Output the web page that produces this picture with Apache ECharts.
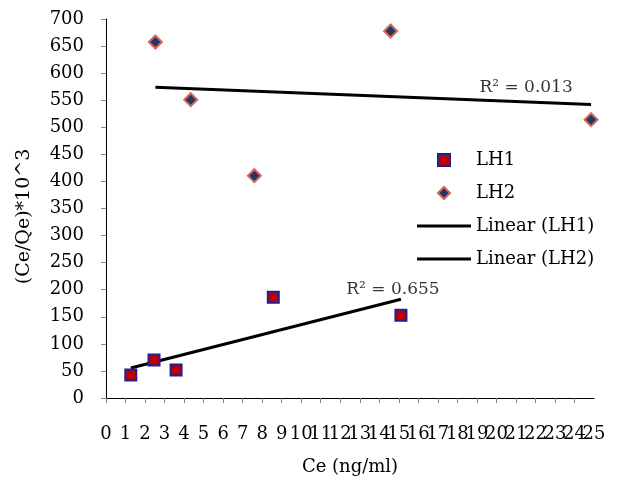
<!DOCTYPE html>
<html><head><meta charset="utf-8">
<script src="https://cdn.jsdelivr.net/npm/echarts@6/dist/echarts.min.js"></script>
<style>html,body{margin:0;padding:0;background:#fff}#c{width:627px;height:479px}</style>
</head><body><div id="c"></div>
<script>
// ---- data ----
const lh1X = [1.27, 2.46, 3.59, 8.57, 15.11];
const lh1Y = [42.5, 70.2, 51.7, 186, 152.7];
const lh2X = [2.53, 4.34, 7.60, 14.58, 24.85];
const lh2Y = [657.5, 551, 410.6, 677.9, 514];
const seriesNames = ['LH1', 'LH2', 'Linear (LH1)', 'Linear (LH2)'];
const r2Labels = ['R\u00B2 = 0.655', 'R\u00B2 = 0.013'];
const xAxisName = 'Ce (ng/ml)';
const yAxisName = '(Ce/Qe)*10^3';
const xMin = 0, xMax = 25, xStep = 1;
const yMin = 0, yMax = 700, yStep = 50;

const FONT = 'DejaVu Serif';
const TXT = '#000';

function zip(xs, ys) { return xs.map((x, i) => [x, ys[i]]); }
function trend(xs, ys) {
  const n = xs.length;
  const mx = xs.reduce((a, b) => a + b, 0) / n;
  const my = ys.reduce((a, b) => a + b, 0) / n;
  let sxy = 0, sxx = 0;
  for (let i = 0; i < n; i++) { sxy += (xs[i] - mx) * (ys[i] - my); sxx += (xs[i] - mx) ** 2; }
  const b = sxy / sxx, a = my - b * mx;
  const x0 = Math.min(...xs), x1 = Math.max(...xs);
  return [[x0, a + b * x0], [x1, a + b * x1]];
}
const t1 = trend(lh1X, lh1Y);
const t2 = trend(lh2X, lh2Y);

const xLabelStyle = { margin: 27, fontFamily: FONT, fontSize: 18, color: TXT, hideOverlap: false };

const chart = echarts.init(document.getElementById('c'), null, { renderer: 'canvas' });
chart.setOption({
  animation: false,
  backgroundColor: '#fff',
  textStyle: { fontFamily: FONT, color: TXT },
  grid: { left: 106, right: 33, top: 19, bottom: 81, containLabel: false, outerBoundsMode: 'none' },
  xAxis: [{
    type: 'value', min: xMin, max: xMax, interval: xStep,
    name: xAxisName, nameLocation: 'middle', nameGap: 60,
    nameTextStyle: { fontFamily: FONT, fontSize: 18, color: TXT },
    axisLine: { show: true, onZero: false, lineStyle: { color: '#000', width: 1 } },
    axisTick: { show: true, length: 5, lineStyle: { color: '#868686' } },
    axisLabel: Object.assign({}, xLabelStyle, { showMinLabel: true, showMaxLabel: false }),
    splitLine: { show: false }
  }, {
    // overlay axis that only carries the last tick label (so neighbouring labels are not dropped)
    type: 'value', min: xMin, max: xMax, interval: xStep, position: 'bottom',
    axisLine: { show: false }, axisTick: { show: false }, splitLine: { show: false },
    axisLabel: Object.assign({}, xLabelStyle, { showMinLabel: false, showMaxLabel: true,
      formatter: v => (v === xMax ? String(v) : '') })
  }],
  yAxis: {
    type: 'value', min: yMin, max: yMax, interval: yStep,
    name: yAxisName, nameLocation: 'middle', nameGap: 72, nameRotate: 90,
    nameTextStyle: { fontFamily: FONT, fontSize: 19, color: TXT, padding: [0, 16, 0, 0] },
    axisLine: { show: true, onZero: false, lineStyle: { color: '#000', width: 1 } },
    axisTick: { show: true, length: 5, lineStyle: { color: '#868686' } },
    axisLabel: { margin: 22, fontFamily: FONT, fontSize: 18, color: TXT,
                 showMinLabel: true, showMaxLabel: true },
    splitLine: { show: false }
  },
  legend: {
    orient: 'vertical', left: 417, top: 151, padding: 0,
    itemWidth: 54, itemHeight: 12, itemGap: 15,
    textStyle: { fontFamily: FONT, fontSize: 18, color: TXT },
    data: [
      { name: seriesNames[0], icon: 'path://M0,0L10,0L10,10L0,10Z',
        itemStyle: { color: '#c00000', borderColor: '#1f1f96', borderWidth: 2 } },
      { name: seriesNames[1], icon: 'path://M5,0L10,5L5,10L0,5Z',
        itemStyle: { color: '#1f3864', borderColor: '#d9645a', borderWidth: 2 } },
      { name: seriesNames[2], icon: 'path://M0,0L54,0L54,3L0,3Z',
        itemStyle: { color: '#000', borderWidth: 0 } },
      { name: seriesNames[3], icon: 'path://M0,0L54,0L54,3L0,3Z',
        itemStyle: { color: '#000', borderWidth: 0 } }
    ]
  },
  series: [
    {
      name: seriesNames[0], type: 'scatter', symbol: 'rect', symbolSize: 11, clip: false,
      itemStyle: { color: '#c00000', borderColor: '#1f1f96', borderWidth: 2, opacity: 1 },
      data: zip(lh1X, lh1Y), z: 3
    },
    {
      name: seriesNames[1], type: 'scatter', symbol: 'diamond', symbolSize: 13, clip: false,
      itemStyle: { color: '#1f3864', borderColor: '#d9645a', borderWidth: 2, opacity: 1 },
      data: zip(lh2X, lh2Y), z: 3
    },
    {
      name: seriesNames[2], type: 'line', symbol: 'none', showSymbol: false, clip: false,
      lineStyle: { color: '#000', width: 3 }, itemStyle: { color: '#000' },
      data: t1, z: 2
    },
    {
      name: seriesNames[3], type: 'line', symbol: 'none', showSymbol: false, clip: false,
      lineStyle: { color: '#000', width: 3 }, itemStyle: { color: '#000' },
      data: t2, z: 2
    },
    {
      name: 'r2', type: 'scatter', symbolSize: 0, clip: false, silent: true,
      itemStyle: { color: 'rgba(0,0,0,0)' },
      label: { show: true, fontFamily: FONT, fontSize: 17, color: TXT, position: 'inside',
               formatter: p => p.data.txt },
      data: [
        { value: t1[1], txt: r2Labels[0], label: { offset: [-8, -10] } },
        { value: t2[1], txt: r2Labels[1], label: { offset: [-65, -17] } }
      ],
      z: 4
    }
  ]
});
</script></body></html>
